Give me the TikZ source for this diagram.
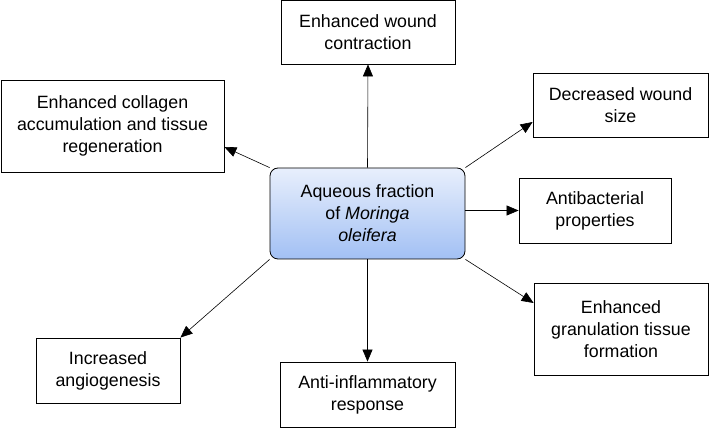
\documentclass[tikz,border=0pt]{standalone}
\usepackage{fontspec}
\setmainfont{Liberation Sans}
\usetikzlibrary{arrows.meta,positioning,calc}
\definecolor{paleblue}{HTML}{E8EFFC}
\definecolor{midblue}{HTML}{A2C0F4}

\begin{document}
\begin{tikzpicture}[x=1pt,y=1pt,
        effect/.style={draw,thick,align=center,inner sep=2pt,font=\fontsize{17.8}{22}\selectfont},
        source/.style={effect,rounded corners=8pt,top color=paleblue,bottom color=midblue},
        link/.style={-{Triangle[length=12pt,width=10pt]},semithick}]
        \useasboundingbox (0,0) rectangle (709,428);

        % Central box
        \node[source,minimum width=195,minimum height=91] (aqueous) at (367.5,214.5) {Aqueous fraction\\of \textit{Moringa}\\\textit{oleifera}};

        % Effect boxes
        \node[effect,minimum width=174,minimum height=64] (contraction) at (368,396) {Enhanced wound\\contraction};
        \node[effect,minimum width=223,minimum height=92] (collagen) at (112.5,302) {Enhanced collagen\\accumulation and tissue\\regeneration};
        \node[effect,minimum width=175,minimum height=64] (woundsize) at (620.5,323) {Decreased wound\\size};
        \node[effect,minimum width=152,minimum height=65] (antibacterial) at (595,217.5) {Antibacterial\\properties};
        \node[effect,minimum width=174,minimum height=92] (granulation) at (621,99) {Enhanced\\granulation tissue\\formation};
        \node[effect,minimum width=175,minimum height=65] (inflammatory) at (367.5,33.5) {Anti-inflammatory\\response};
        \node[effect,minimum width=144,minimum height=65] (angiogenesis) at (108,57.5) {Increased\\angiogenesis};

        % Arrows from the central box
        \draw[link] (aqueous.north) -- (contraction.south);
        \draw[link] (aqueous.north west) -- ([yshift=-21pt]collagen.east);
        \draw[link] (aqueous.north east) -- ([yshift=-17pt]woundsize.west);
        \draw[link] (aqueous.east |- antibacterial.west) -- (antibacterial.west);
        \draw[link] (aqueous.south east) -- ([yshift=26pt]granulation.west);
        \draw[link] (aqueous.south) -- (inflammatory.north);
        \draw[link] (aqueous.south west) -- (angiogenesis.north east);

\end{tikzpicture}
\end{document}
